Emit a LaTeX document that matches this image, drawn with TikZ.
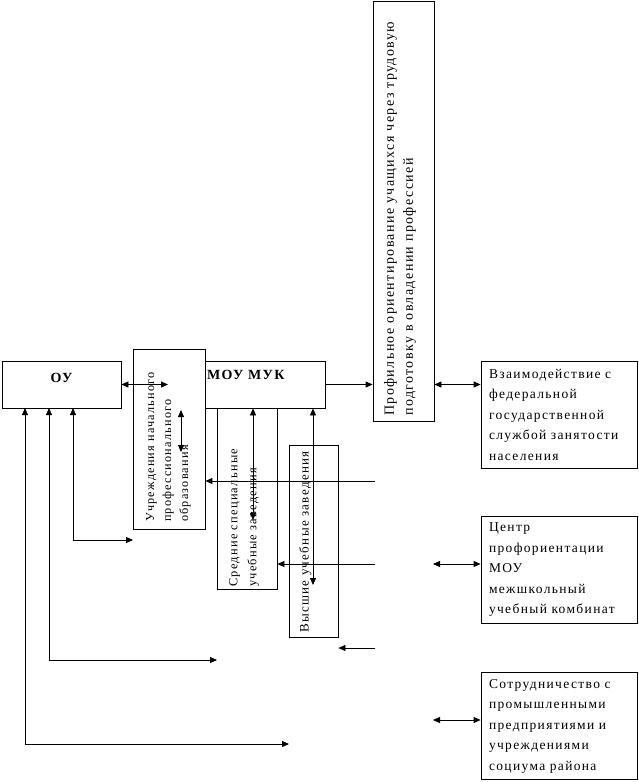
\documentclass[tikz,border=0pt]{standalone}
\usepackage{fontspec}
\setmainfont{Liberation Serif}[LetterSpace=10]
\usetikzlibrary{arrows.meta}

\begin{document}
\begin{tikzpicture}[x=1pt, y=-1pt,
    every node/.style={font=\fontsize{13}{18}\selectfont},
    box/.style={draw, fill=white, line width=0.8pt, inner sep=0pt},
    rbox/.style={draw, fill=white, line width=0.8pt, text width=140pt,
      inner xsep=8pt, align=left, minimum height=107pt,
      font=\fontsize{13.5}{20.5}\selectfont},
    vtext/.style={rotate=90, anchor=north west, align=left, inner sep=0pt},
    link/.style={line width=0.8pt, -{Triangle[length=7pt,width=6pt]}},
    both/.style={line width=0.8pt,
      {Triangle[length=7pt,width=6pt]}-{Triangle[length=7pt,width=6pt]}}]

    \useasboundingbox (0,0) rectangle (638,782);

    % left and middle boxes
    \node[box, minimum width=119pt, minimum height=47pt, text height=21pt, text depth=26pt,
      font=\fontsize{14}{16}\selectfont\bfseries] (ou) at (61.5,384.5) {ОУ};
    \node[box, minimum width=120pt, minimum height=47pt, text height=18pt, text depth=29pt,
      text width=116pt, align=left, font=\fontsize{14}{16}\selectfont\bfseries]
      (muk) at (265,384.5) {МОУ МУК};
    \node[box, minimum width=72pt, minimum height=180pt] (uch) at (169,439) {};
    \node[box, minimum width=60pt, minimum height=181pt] (sred) at (247,498.5) {};
    \node[box, minimum width=49pt, minimum height=192pt] (vys) at (313.5,541) {};
    \node[box, minimum width=61pt, minimum height=420pt] (prof) at (403.5,211) {};

    % rotated texts
    \node[vtext, font=\fontsize{12.2}{17}\selectfont] (uchtext) at (146,522)
      {Учреждения начального\\профессионального\\образования};
    \node[vtext, font=\fontsize{12.4}{19}\selectfont] (sredtext) at (229,587)
      {Средние специальные\\учебные заведения};
    \node[vtext] (vystext) at (299,633) {Высшие учебные заведения};
    \node[vtext, font=\fontsize{14}{19}\selectfont] (proftext) at (384,416)
      {Профильное ориентирование учащихся через трудовую\\подготовку в овладении профессией};

    % right column
    \node[rbox] (vz) at (559,414.5)
      {Взаимодействие с\\федеральной\\государственной\\службой занятости\\населения};
    \node[rbox] (cent) at (559,570)
      {Центр\\профориентации\\МОУ\\межшкольный\\учебный комбинат};
    \node[rbox] (sotr) at (559,726)
      {Сотрудничество с\\промышленными\\предприятиями и\\учреждениями\\социума района};

    % top row arrows
    \coordinate (u1) at (168,384.5);
    \draw[both] (ou.east) -- (u1);
    \draw[link] (muk.east) -- (muk.east -| prof.west);
    \draw[both] (prof.east |- muk.east) -- (vz.west |- muk.east);

    % vertical arrows under МОУ МУК
    \coordinate (v1a) at (181,410);
    \coordinate (v1b) at (181,452);
    \draw[both] (v1a) -- (v1b);
    \coordinate (v2) at (253,520);
    \draw[both] (v2 |- muk.south) -- (v2);
    \coordinate (v3) at (313,585);
    \draw[both] (v3 |- muk.south) -- (v3);

    % arrows coming from the right
    \coordinate (r1) at (375,481);
    \draw[link] (r1) -- (r1 -| uch.east);
    \coordinate (r2) at (375,564);
    \draw[link] (r2) -- (r2 -| sred.east);
    \coordinate (r3) at (375,648);
    \draw[link] (r3) -- (r3 -| vys.east);

    % right column arrows
    \coordinate (c1) at (433,564);
    \draw[both] (c1) -- (c1 -| cent.west);
    \coordinate (c2) at (433,720);
    \draw[both] (c2) -- (c2 -| sotr.west);

    % feedback lines back to ОУ
    \foreach \n/\x/\y/\e in {1/73/540/133, 2/49/660/217, 3/25/744/289}{
      \coordinate (up\n) at (\x,408);
      \coordinate (end\n) at (\e,\y);
      \draw[both] (up\n) |- (end\n);
    }
  \end{tikzpicture}
\end{document}
